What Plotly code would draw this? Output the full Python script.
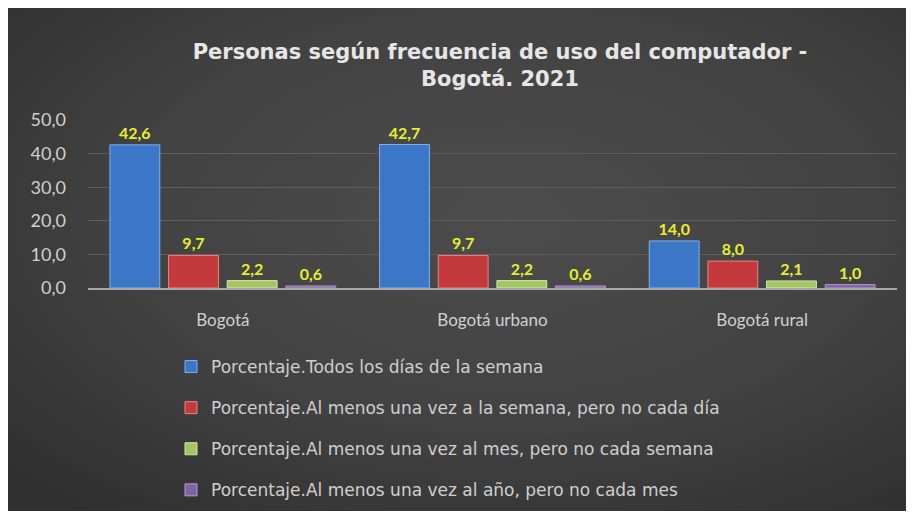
import base64
import plotly.graph_objects as go

categories = ["Bogotá", "Bogotá urbano", "Bogotá rural"]
series_names = [
    "Porcentaje.Todos los días de la semana",
    "Porcentaje.Al menos una vez a la semana, pero no cada día",
    "Porcentaje.Al menos una vez al mes, pero no cada semana",
    "Porcentaje.Al menos una vez al año, pero no cada mes",
]
todos_los_dias = [42.6, 42.7, 14.0]
semana = [9.7, 9.7, 8.0]
mes = [2.2, 2.2, 2.1]
anio = [0.6, 0.6, 1.0]
y_ticks = [0, 10, 20, 30, 40, 50]

values = [todos_los_dias, semana, mes, anio]
colors = ["#3b77c6", "#c43a3c", "#a3c564", "#8064a2"]
edge = ["#7fb0ee", "#e98486", "#d5eaa0", "#b39ad0"]

# figure is drawn inside the page's 8px body margin
W, H = 906, 503
L, R, T, B = 80, 17, 112, 223
pw, ph = W - L - R, H - T - B

def px_x(px):
    return (px - L) / pw

def px_y(py):
    return (H - B - py) / ph

fig = go.Figure()
for i, (name, vals) in enumerate(zip(series_names, values)):
    fig.add_trace(go.Bar(
        x=categories, y=vals, name=name,
        legendgroup=f"g{i}",
        marker=dict(color=colors[i], line=dict(color=edge[i], width=1)),
        text=vals, texttemplate="<b>%{y:.1f}</b>",
        textposition="outside", cliponaxis=False,
        textfont=dict(color="#e6f02a", size=16, family="Lato"),
    ))

svg = f'''<svg xmlns="http://www.w3.org/2000/svg" width="906" height="503" preserveAspectRatio="none">
<defs><radialGradient id="g" cx="55%" cy="42%" r="75%">
<stop offset="0%" stop-color="#4c4c4c"/><stop offset="55%" stop-color="#424242"/>
<stop offset="100%" stop-color="#2f2f2f"/></radialGradient></defs>
<rect width="906" height="503" fill="url(#g)"/></svg>'''
src = "data:image/svg+xml;base64," + base64.b64encode(svg.encode()).decode()

fig.update_layout(
    width=W, height=H,
    margin=dict(l=L, r=R, t=T, b=B, pad=0, autoexpand=False),
    paper_bgcolor="#3c3c3c", plot_bgcolor="rgba(0,0,0,0)",
    separators=",.",
    font=dict(family="Lato", color="#d6d6d6", size=16),
    title=dict(
        text="<b>Personas según frecuencia de uso del computador -<br>Bogotá. 2021</b>",
        x=px_x(492), xref="paper", xanchor="center",
        y=1 - 51 / H, yref="container", yanchor="top",
        font=dict(family="DejaVu Sans", size=21, color="#e6e6e6"),
    ),
    bargap=0.13, bargroupgap=0.15,
    showlegend=True,
    legend=dict(
        x=px_x(163), y=px_y(341), xanchor="left", yanchor="top",
        orientation="v", traceorder="grouped", tracegroupgap=16,
        font=dict(size=17, color="#cfcfcf", family="DejaVu Sans"),
        bgcolor="rgba(0,0,0,0)",
    ),
    images=[dict(
        source=src, xref="paper", yref="paper",
        x=px_x(0), y=px_y(0), sizex=px_x(W) - px_x(0), sizey=px_y(0) - px_y(H),
        xanchor="left", yanchor="top", sizing="stretch", layer="below",
    )],
)
fig.update_xaxes(
    showgrid=False, showline=True, linecolor="#a8a8a8", linewidth=2,
    ticks="", ticklabelstandoff=16, tickfont=dict(size=17, color="#d0d0d0"),
)
fig.update_yaxes(
    range=[0, 50], tickvals=y_ticks, tickformat=".1f",
    showgrid=True, gridcolor="#5e5e5e", gridwidth=1,
    zeroline=False, showline=False, ticks="", ticklabelstandoff=21,
    tickfont=dict(size=18, color="#d0d0d0"),
)
fig.write_html("out.html")
